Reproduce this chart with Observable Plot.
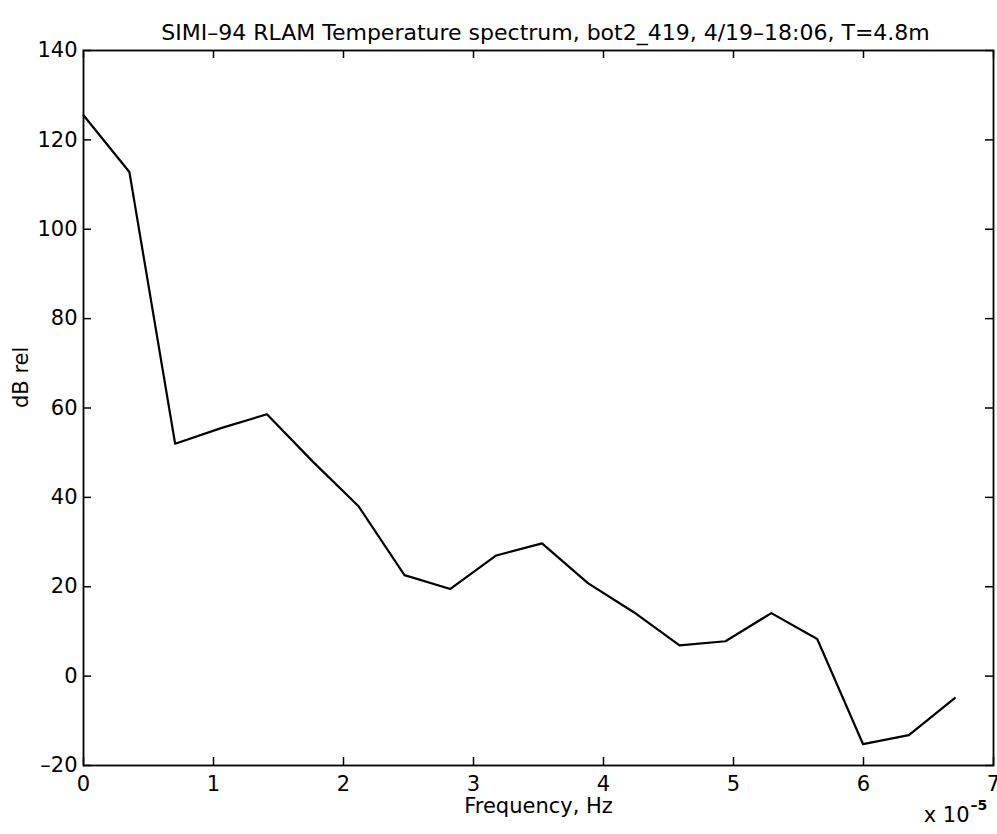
<!DOCTYPE html>
<html>
<head>
<meta charset="utf-8">
<script src="https://cdn.jsdelivr.net/npm/d3@7"></script>
<script src="https://cdn.jsdelivr.net/npm/@observablehq/plot@0.6"></script>
<style>
  html, body { margin: 0; padding: 0; background: #fff; }
  #chart svg { display: block; }
</style>
</head>
<body>
<div id="chart"></div>
<script>
// Frequency in units of 1e-5 Hz
const freq = [0, 0.353, 0.705, 1.058, 1.411, 1.764, 2.116, 2.469, 2.822, 3.175,
              3.527, 3.880, 4.233, 4.585, 4.938, 5.291, 5.644, 5.996, 6.349, 6.702];
// Spectrum level, dB rel
const dbRel = [125.5, 112.8, 52.0, 55.5, 58.6, 48.0, 38.0, 22.6, 19.5, 27.0,
               29.7, 20.8, 14.3, 6.9, 7.8, 14.1, 8.3, -15.2, -13.2, -4.9];
const xTicks = [0, 1, 2, 3, 4, 5, 6, 7];
const yTicks = [-20, 0, 20, 40, 60, 80, 100, 120, 140];
const titleText = "SIMI–94 RLAM Temperature spectrum, bot2_419, 4/19–18:06, T=4.8m";
const xLabel = "Frequency, Hz";
const yLabel = "dB rel";
const expBase = "x 10";
const expPower = "–5";

const data = freq.map((f, i) => ({f, db: dbRel[i]}));

const W = 997, H = 834;
const mL = 83, mR = 4, mT = 50, mB = 69;
const plotW = W - mL - mR, plotH = H - mT - mB;
const tickLen = 8;
const font = "'DejaVu Sans', 'Liberation Sans', Arial, sans-serif";

const chart = Plot.plot({
  width: W,
  height: H,
  marginLeft: mL,
  marginRight: mR,
  marginTop: mT,
  marginBottom: mB,
  style: {fontFamily: font, fontSize: "21px", background: "#fff", color: "#000"},
  x: {domain: [0, 7]},
  y: {domain: [-20, 140]},
  marks: [
    Plot.frame({stroke: "#000", strokeWidth: 1.8}),
    // inward ticks, bottom & top
    Plot.tickX(xTicks, {x: d => d, insetTop: plotH - tickLen, stroke: "#000", strokeWidth: 1.5}),
    Plot.tickX(xTicks, {x: d => d, insetBottom: plotH - tickLen, stroke: "#000", strokeWidth: 1.5}),
    // inward ticks, left & right
    Plot.tickY(yTicks, {y: d => d, insetRight: plotW - tickLen, stroke: "#000", strokeWidth: 1.5}),
    Plot.tickY(yTicks, {y: d => d, insetLeft: plotW - tickLen, stroke: "#000", strokeWidth: 1.5}),
    Plot.axisX({ticks: xTicks, tickSize: 0, tickPadding: 11, fontSize: 21, label: null, tickFormat: d => String(d)}),
    Plot.axisY({ticks: yTicks, tickSize: 0, tickPadding: 6, fontSize: 21, label: null, tickFormat: d => d < 0 ? "–" + Math.abs(d) : String(d)}),
    Plot.line(data, {x: "f", y: "db", stroke: "#000", strokeWidth: 2.2}),
    Plot.text([titleText], {frameAnchor: "top", dx: 7, dy: -26, fontSize: 22, fill: "#000"}),
    Plot.text([xLabel], {frameAnchor: "bottom", dy: 47, fontSize: 21, fill: "#000"}),
    Plot.text([yLabel], {frameAnchor: "left", dx: -62, rotate: -90, fontSize: 21, fill: "#000"}),
    Plot.text([expBase], {frameAnchor: "bottom-right", dx: -24, dy: 56, textAnchor: "end", fontSize: 21, fill: "#000"}),
    Plot.text([expPower], {frameAnchor: "bottom-right", dx: -23, dy: 44, textAnchor: "start", fontSize: 14, fontWeight: "bold", fill: "#000"})
  ]
});
document.getElementById("chart").appendChild(chart);
</script>
</body>
</html>
